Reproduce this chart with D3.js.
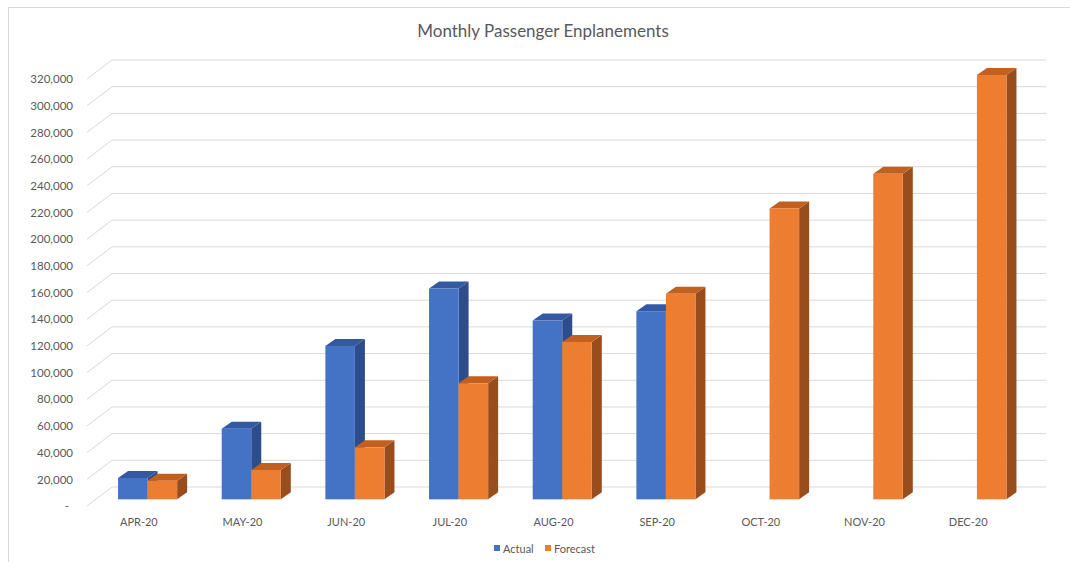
<!DOCTYPE html>
<html>
<head>
<meta charset="utf-8">
<script src="https://cdn.jsdelivr.net/npm/d3@7"></script>
<style>
  html, body { margin: 0; padding: 0; background: #fff; }
  svg text { font-family: Lato, "Open Sans", sans-serif; fill: #595959; }
</style>
</head>
<body>
<div id="chart"></div>
<script>
// data
const months = ['APR-20', 'MAY-20', 'JUN-20', 'JUL-20', 'AUG-20', 'SEP-20', 'OCT-20', 'NOV-20', 'DEC-20'];
const seriesNames = ['Actual', 'Forecast'];
const actual = [16000, 53000, 115000, 158000, 134000, 141000, null, null, null];
const forecast = [14000, 22000, 39000, 87000, 118000, 154000, 218000, 244000, 318000];
const yTicks = [0, 20000, 40000, 60000, 80000, 100000, 120000, 140000, 160000, 180000,
  200000, 220000, 240000, 260000, 280000, 300000, 320000];

const width = 1070;
const height = 562;

// front plane of the 3d box, and the offset to the back wall
const plot = { left: 87, right: 1020, top: 79, bottom: 506 };
const depth = { dx: 25, dy: -19 };
const barFront = 0.35; // bars sit partly into the depth
const barDepth = { dx: 10, dy: -7 };

const colors = {
  Actual: { front: '#4472C4', top: '#3359A3', side: '#2C4C8A' },
  Forecast: { front: '#ED7D31', top: '#C2611F', side: '#9A4D1C' },
};

const svg = d3.select('#chart')
  .append('svg')
  .attr('width', width)
  .attr('height', height);

// chart frame
svg.append('rect')
  .attr('x', 8.5)
  .attr('y', 7.5)
  .attr('width', width)
  .attr('height', height)
  .attr('fill', 'none')
  .attr('stroke', '#d9d9d9');

svg.append('text')
  .attr('x', 543)
  .attr('y', 30)
  .attr('text-anchor', 'middle')
  .attr('dominant-baseline', 'central')
  .style('font-size', '17px')
  .text('Monthly Passenger Enplanements');

const x = d3.scaleBand()
  .domain(months)
  .range([plot.left, plot.right])
  .paddingInner(0.43)
  .paddingOuter(0.215);

const xSeries = d3.scaleBand()
  .domain(seriesNames)
  .range([0, x.bandwidth()]);

const y = d3.scaleLinear()
  .domain([0, 320000])
  .range([plot.bottom, plot.top]);

// gridlines: short diagonal on the floor side, then across the back wall
const grid = svg.append('g')
  .attr('stroke', '#d9d9d9')
  .attr('stroke-width', 1)
  .attr('fill', 'none');

grid.selectAll('path')
  .data(yTicks)
  .enter()
  .append('path')
  .attr('d', (d) => {
    const y0 = y(d);
    const y1 = y0 + depth.dy;
    return `M${plot.left},${y0}L${plot.left + depth.dx},${y1}L${plot.right + depth.dx + 1},${y1}`;
  });

// Y AXIS
const yAxis = d3.axisLeft(y)
  .tickValues(yTicks)
  .tickSize(0)
  .tickPadding(14)
  .tickFormat((d) => (d === 0 ? '-' : d3.format(',')(d)));

const yAxisGroup = svg.append('g')
  .attr('transform', `translate(${plot.left},0)`)
  .call(yAxis);
yAxisGroup.select('.domain').remove();
yAxisGroup.selectAll('text')
  .style('font-size', '11.5px')
  .style('fill', '#595959')
  .attr('dx', (d) => (d === 0 ? -4 : 0));

// X AXIS
const xAxis = d3.axisBottom(x).tickSize(0).tickPadding(12);
const xAxisGroup = svg.append('g')
  .attr('transform', `translate(0,${plot.bottom})`)
  .call(xAxis);
xAxisGroup.select('.domain').remove();
xAxisGroup.selectAll('text')
  .style('font-size', '11px')
  .style('fill', '#595959');

// BARS
const bars = [];
months.forEach((m, i) => {
  bars.push({ month: m, series: 'Actual', value: actual[i] });
  bars.push({ month: m, series: 'Forecast', value: forecast[i] });
});

const offX = depth.dx * barFront;
const offY = depth.dy * barFront;
const w = xSeries.bandwidth();

const barG = svg.append('g')
  .selectAll('g')
  .data(bars.filter((d) => d.value != null))
  .enter()
  .append('g');

barG.each(function (d) {
  const g = d3.select(this);
  const x0 = x(d.month) + xSeries(d.series) + offX;
  const yTop = y(d.value) + offY;
  const yBot = y(0) + offY;
  const c = colors[d.series];

  g.append('path')
    .attr('fill', c.side)
    .attr('d', `M${x0 + w},${yTop}L${x0 + w + barDepth.dx},${yTop + barDepth.dy}` +
      `L${x0 + w + barDepth.dx},${yBot + barDepth.dy}L${x0 + w},${yBot}Z`);

  g.append('path')
    .attr('fill', c.top)
    .attr('d', `M${x0},${yTop}L${x0 + barDepth.dx},${yTop + barDepth.dy}` +
      `L${x0 + w + barDepth.dx},${yTop + barDepth.dy}L${x0 + w},${yTop}Z`);

  g.append('rect')
    .attr('x', x0)
    .attr('y', yTop)
    .attr('width', w)
    .attr('height', yBot - yTop)
    .attr('fill', c.front);
});

// LEGEND
const legend = svg.append('g')
  .attr('transform', 'translate(494,548)');

const legendX = [0, 51];
legend.selectAll('g')
  .data(seriesNames)
  .enter()
  .append('g')
  .attr('transform', (_, i) => `translate(${legendX[i]},0)`)
  .each(function (name) {
    const g = d3.select(this);
    g.append('rect')
      .attr('x', 0)
      .attr('y', -3)
      .attr('width', 6)
      .attr('height', 6)
      .attr('fill', colors[name].front);
    g.append('text')
      .attr('x', 9)
      .attr('y', 0)
      .attr('dominant-baseline', 'central')
      .style('font-size', '11px')
      .text(name);
  });
</script>
</body>
</html>
